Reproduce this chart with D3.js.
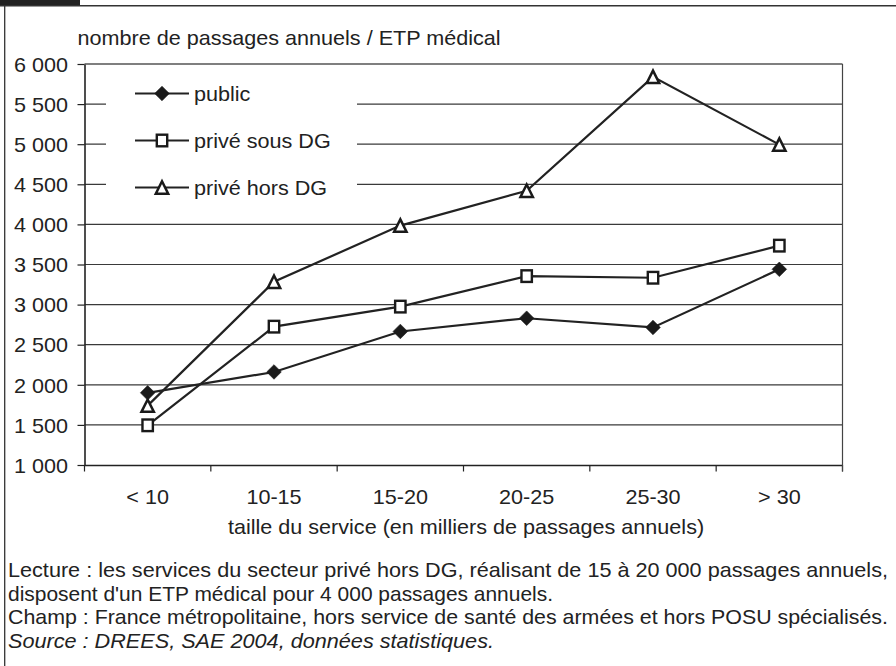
<!DOCTYPE html>
<html><head><meta charset="utf-8">
<script src="https://cdn.jsdelivr.net/npm/d3@7"></script>
<style>
html,body{margin:0;padding:0;background:#fff;}
svg{display:block;}
text{font-family:"Liberation Sans",Arial,sans-serif;fill:#222;}
</style></head>
<body>
<svg id="c" width="896" height="666"></svg>
<script>
const categories = ["< 10","10-15","15-20","20-25","25-30","> 30"];
const publicVals = [1900, 2160, 2665, 2830, 2715, 3440];
const priveSousDG = [1495, 2725, 2975, 3355, 3335, 3735];
const priveHorsDG = [1740, 3285, 3985, 4420, 5840, 4995];
const yTicks = [1000,1500,2000,2500,3000,3500,4000,4500,5000,5500,6000];
const seriesNames = ["public","privé sous DG","privé hors DG"];
const yTitle = "nombre de passages annuels / ETP médical";
const xTitle = "taille du service (en milliers de passages annuels)";
const notes = [
  {t:"Lecture : les services du secteur privé hors DG, réalisant de 15 à 20 000 passages annuels,", i:false, w:880},
  {t:"disposent d'un ETP médical pour 4 000 passages annuels.", i:false, w:545},
  {t:"Champ : France métropolitaine, hors service de santé des armées et hors POSU spécialisés.", i:false, w:880},
  {t:"Source : DREES, SAE 2004, données statistiques.", i:true, w:486}
];

const SX = 1.08, FS = 20;
const svg = d3.select("#c");
const ink = "#222";

// frame
svg.append("rect").attr("x",0).attr("y",0).attr("width",80).attr("height",5.5).attr("fill","#222");
svg.append("line").attr("x1",0).attr("x2",896).attr("y1",5.8).attr("y2",5.8).attr("stroke","#333").attr("stroke-width",1.4);
svg.append("line").attr("x1",4.7).attr("x2",4.7).attr("y1",5.8).attr("y2",666).attr("stroke","#333").attr("stroke-width",1.3);

function stext(x,y,str,anchor,italic,w){
  const g = svg.append("g").attr("transform",`translate(${x},${y}) scale(${SX},1)`);
  const t = g.append("text").attr("text-anchor",anchor||"start").attr("font-size",FS).text(str);
  if(italic) t.attr("font-style","italic");
  if(w) t.attr("textLength",w/SX).attr("lengthAdjust","spacingAndGlyphs");
  return t;
}

const x = d3.scaleBand().domain(categories).range([84.5, 842.5]);
const y = d3.scaleLinear().domain([1000,6000]).range([465,64]);
const cx = c => x(c) + x.bandwidth()/2;

// gridlines
svg.append("g").selectAll("line").data(yTicks.filter(v=>v>1000)).join("line")
  .attr("x1",x.range()[0]).attr("x2",x.range()[1])
  .attr("y1",d=>y(d)).attr("y2",d=>y(d))
  .attr("stroke",d=>d===6000?"#555":"#3a3a3a").attr("stroke-width",d=>d===6000?1.6:1.2);

// y axis
const fmt = v => d3.format(",")(v).replace(/,/g," ");
const ya = svg.append("g").attr("transform",`translate(${x.range()[0]},0)`)
  .call(d3.axisLeft(y).tickValues(yTicks).tickSize(7).tickSizeOuter(0).tickFormat(fmt));
ya.select(".domain").attr("stroke",ink).attr("stroke-width",1.6);
ya.selectAll(".tick line").attr("stroke",ink).attr("stroke-width",1.2);
ya.selectAll(".tick text").attr("font-size",FS).attr("font-family","Liberation Sans, Arial, sans-serif")
  .attr("fill",ink).attr("x",-16.5/SX).attr("dy","0.36em").attr("transform",`scale(${SX},1)`);

// x axis
const xa = svg.append("g").attr("transform",`translate(0,${y(1000)})`)
  .call(d3.axisBottom(x).tickSize(0).tickSizeOuter(0));
xa.select(".domain").attr("stroke",ink).attr("stroke-width",1.6);
xa.selectAll(".tick text").attr("font-size",FS).attr("font-family","Liberation Sans, Arial, sans-serif")
  .attr("fill",ink).attr("y",39).attr("dy",0)
  .attr("transform",`scale(${SX},1)`);
// boundary ticks
const bounds = categories.map(c=>x(c)).concat([x.range()[1]]);
svg.append("g").selectAll("line").data(bounds).join("line")
  .attr("x1",d=>d).attr("x2",d=>d).attr("y1",y(1000)).attr("y2",y(1000)+6.5)
  .attr("stroke",ink).attr("stroke-width",1.2);
// right border
svg.append("line").attr("x1",x.range()[1]).attr("x2",x.range()[1]).attr("y1",y(6000)).attr("y2",y(1000)+6.5)
  .attr("stroke","#444").attr("stroke-width",1.2);

// titles
stext(77.5,44.5,yTitle,"start");
stext(466,533.5,xTitle,"middle");

// series
const series = [
  {name:seriesNames[0], vals:publicVals, m:"diamond"},
  {name:seriesNames[1], vals:priveSousDG, m:"square"},
  {name:seriesNames[2], vals:priveHorsDG, m:"triangle"}
];
const line = d3.line().x((d,i)=>cx(categories[i])).y(d=>y(d));
function marker(g,m,px,py){
  if(m==="diamond"){
    g.append("path").attr("d",`M${px},${py-7.3}L${px+7.3},${py}L${px},${py+7.3}L${px-7.3},${py}Z`)
      .attr("fill","#1a1a1a").attr("stroke","#1a1a1a").attr("stroke-width",0.6);
  } else if(m==="square"){
    g.append("rect").attr("x",px-5.2).attr("y",py-5.8).attr("width",10.4).attr("height",11.6)
      .attr("fill","#fff").attr("stroke","#1a1a1a").attr("stroke-width",2.4);
  } else {
    g.append("path").attr("d",`M${px},${py-6.2}L${px+6.2},${py+6.2}L${px-6.2},${py+6.2}Z`)
      .attr("fill","#fff").attr("stroke","#1a1a1a").attr("stroke-width",2.5).attr("stroke-linejoin","miter");
  }
}
const sg = svg.append("g");
series.forEach(s=>{
  sg.append("path").datum(s.vals).attr("d",line).attr("fill","none").attr("stroke",ink).attr("stroke-width",2.2);
});
series.forEach(s=>{
  s.vals.forEach((v,i)=>marker(sg,s.m,cx(categories[i]),y(v)));
});

// legend
const lg = svg.append("g");
lg.append("rect").attr("x",106).attr("y",72).attr("width",251).attr("height",136).attr("fill","#fff");
const legY = [93.5,140.5,187.5];
series.forEach((s,i)=>{
  lg.append("line").attr("x1",135).attr("x2",189).attr("y1",legY[i]).attr("y2",legY[i]).attr("stroke",ink).attr("stroke-width",2.2);
  marker(lg,s.m,162,legY[i]);
  const g = lg.append("g").attr("transform",`translate(194,${legY[i]}) scale(${SX},1)`);
  g.append("text").attr("font-size",FS).attr("dy","0.36em").text(s.name);
});

// notes
const noteY = [577,600.5,624,647.5];
notes.forEach((n,i)=>stext(8,noteY[i],n.t,"start",n.i,n.w));
</script>
</body></html>
